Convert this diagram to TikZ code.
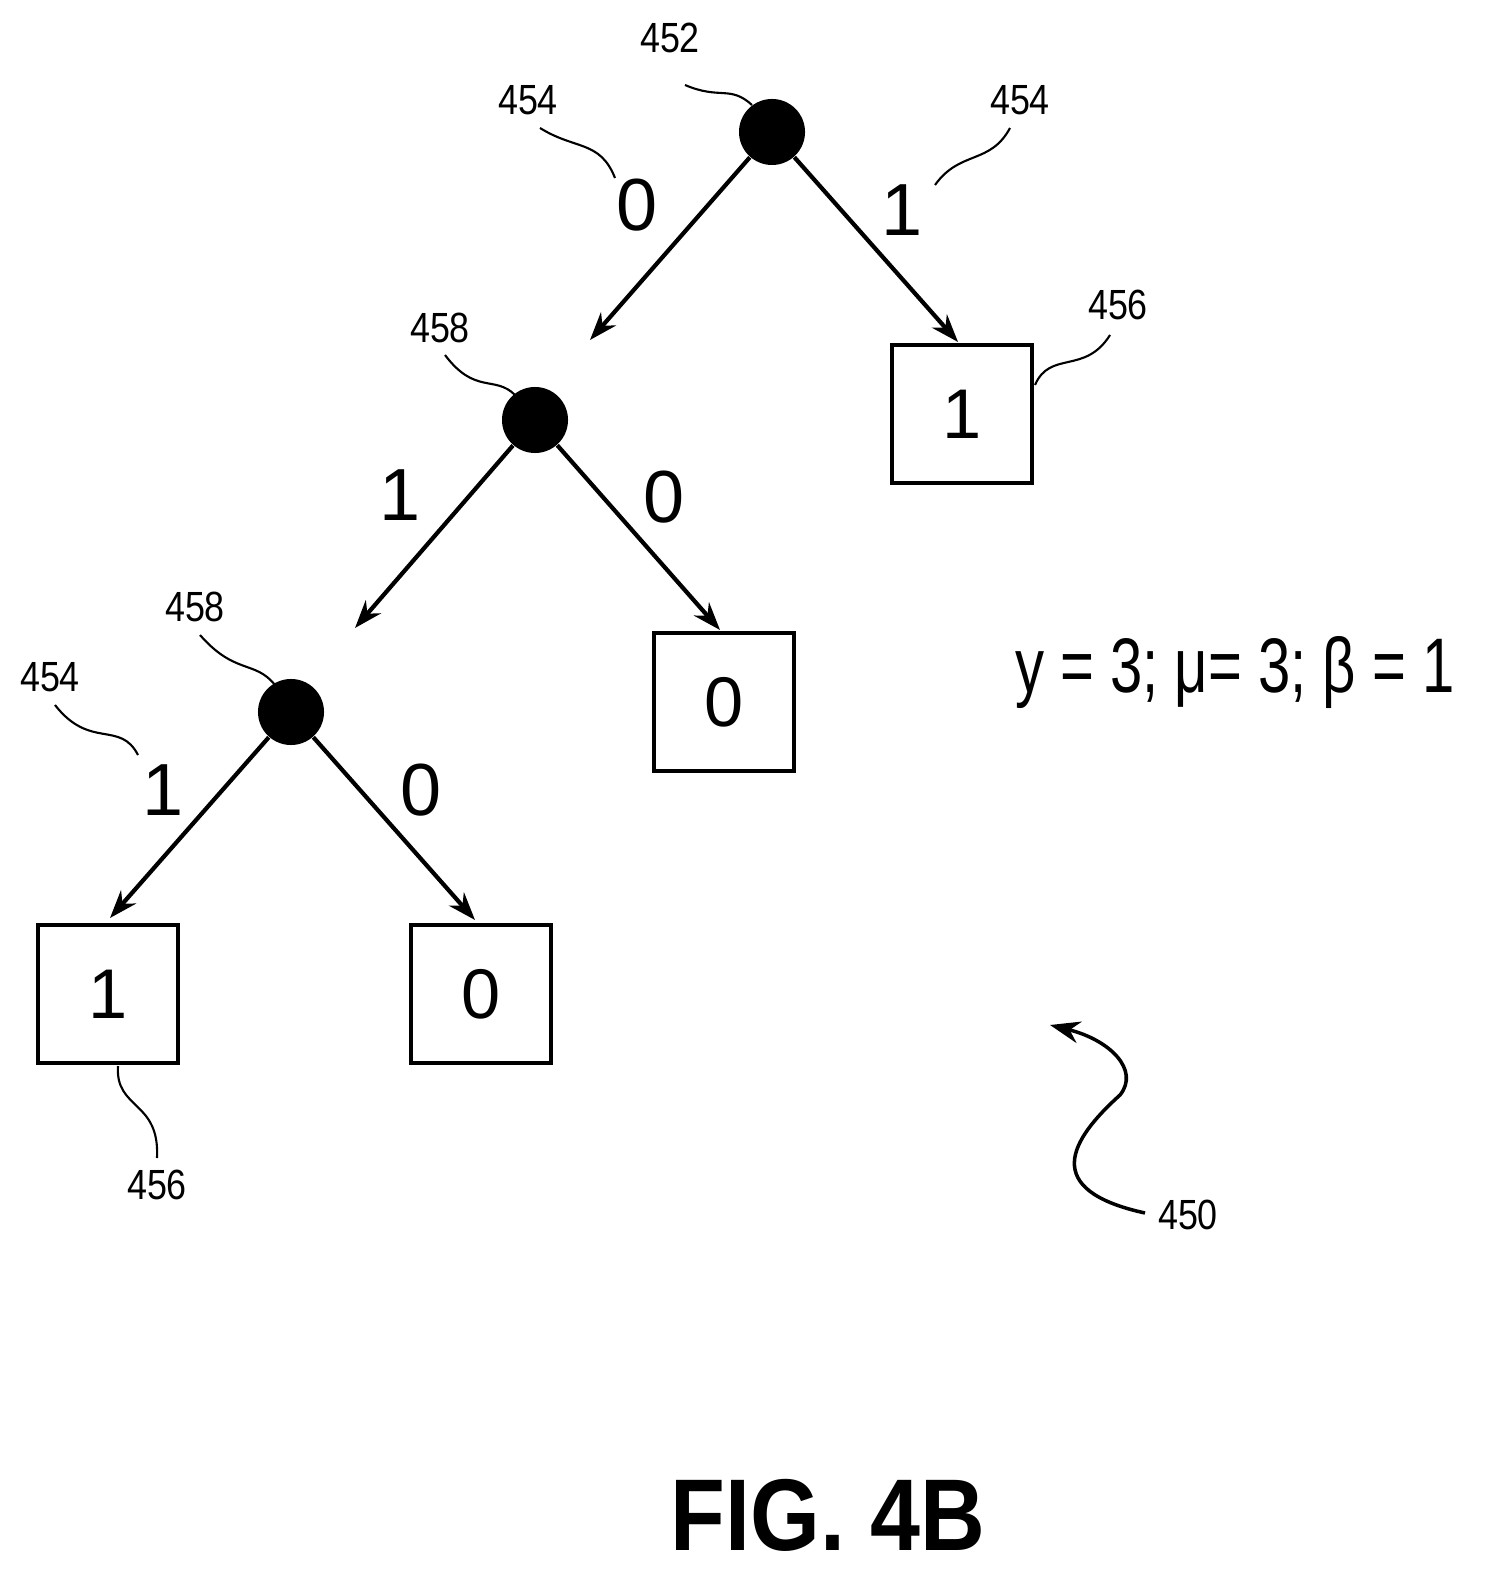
\documentclass[tikz,border=0pt]{standalone}
\usepackage{fontspec}
\setmainfont{Liberation Sans}
\usepackage{graphicx}
\usetikzlibrary{arrows.meta}
\newcommand{\narrow}[2]{\scalebox{#1}[1]{#2}}
\begin{document}
\begin{tikzpicture}[x=0.01cm,y=-0.01cm,
    dot/.style={circle,fill=black,minimum size=0.66cm,inner sep=0pt},
    leaf/.style={draw,line width=1.2pt,minimum width=1.4cm,minimum height=1.38cm,font=\fontsize{20}{20}\selectfont},
    edge/.style={line width=1.2pt,-{Stealth[length=0.28cm,width=0.2cm]}},
    bit/.style={font=\fontsize{21}{21}\selectfont},
    ref/.style={font=\fontsize{12}{12}\selectfont},
    lead/.style={line width=0.6pt}]
  \useasboundingbox (0,0) rectangle (1495,1586);
  % nodes
  \node[dot] (r) at (772,132) {};
  \node[dot] (m) at (535,420) {};
  \node[dot] (l) at (291,712) {};
  \node[leaf] (b1) at (962,414) {1};
  \node[leaf] (b2) at (724,702) {0};
  \node[leaf] (b3) at (108,994) {1};
  \node[leaf] (b4) at (481,994) {0};
  \coordinate (e1) at (590,340);
  \coordinate (e2) at (355,628);
  % edges
  \draw[edge] (r) -- (e1);
  \draw[edge] (r) -- (958,342);
  \draw[edge] (m) -- (e2);
  \draw[edge] (m) -- (720,630);
  \draw[edge] (l) -- (110,918);
  \draw[edge] (l) -- (475,920);
  % edge bits
  \node[bit] at (637,205) {0};
  \node[bit] at (902,210) {1};
  \node[bit] at (400,495) {1};
  \node[bit] at (664,497) {0};
  \node[bit] at (163,790) {1};
  \node[bit] at (421,790) {0};
  % reference numerals
  \node[ref] (n452) at (670,38) {\narrow{0.85}{452}};
  \node[ref] (n454a) at (528,100) {\narrow{0.85}{454}};
  \node[ref] (n454b) at (1020,100) {\narrow{0.85}{454}};
  \node[ref] (n456a) at (1118,305) {\narrow{0.85}{456}};
  \node[ref] (n458a) at (440,328) {\narrow{0.85}{458}};
  \node[ref] (n458b) at (195,607) {\narrow{0.85}{458}};
  \node[ref] (n454c) at (50,677) {\narrow{0.85}{454}};
  \node[ref] (n456b) at (157,1185) {\narrow{0.85}{456}};
  \node[ref] (n450) at (1188,1215) {\narrow{0.85}{450}};
  \draw[lead] (685,85) .. controls (720,100) and (730,85) .. (752,105);
  \draw[lead] (540,128) .. controls (575,150) and (600,140) .. (615,178);
  \draw[lead] (1010,128) .. controls (990,165) and (960,150) .. (935,185);
  \draw[lead] (1110,335) .. controls (1085,375) and (1050,350) .. (1035,385);
  \draw[lead] (445,355) .. controls (475,395) and (495,375) .. (515,395);
  \draw[lead] (200,635) .. controls (235,675) and (255,660) .. (275,685);
  \draw[lead] (55,705) .. controls (90,750) and (120,720) .. (138,755);
  \draw[lead] (157,1158) .. controls (160,1100) and (115,1110) .. (118,1066);
  \draw[line width=1pt,-{Stealth[length=0.3cm,width=0.22cm]}] (1145,1213)
     .. controls (1040,1190) and (1070,1140) .. (1120,1095)
     .. controls (1140,1070) and (1110,1040) .. (1050,1025);
  % legend
  \node[font=\fontsize{22}{22}\selectfont] (eq) at (1235,672) {\narrow{0.75}{y = 3; μ= 3; β = 1}};
  \node[font=\bfseries\fontsize{29}{29}\selectfont] (fig) at (828,1515) {\narrow{0.88}{FIG. 4B}};
\end{tikzpicture}
\end{document}
